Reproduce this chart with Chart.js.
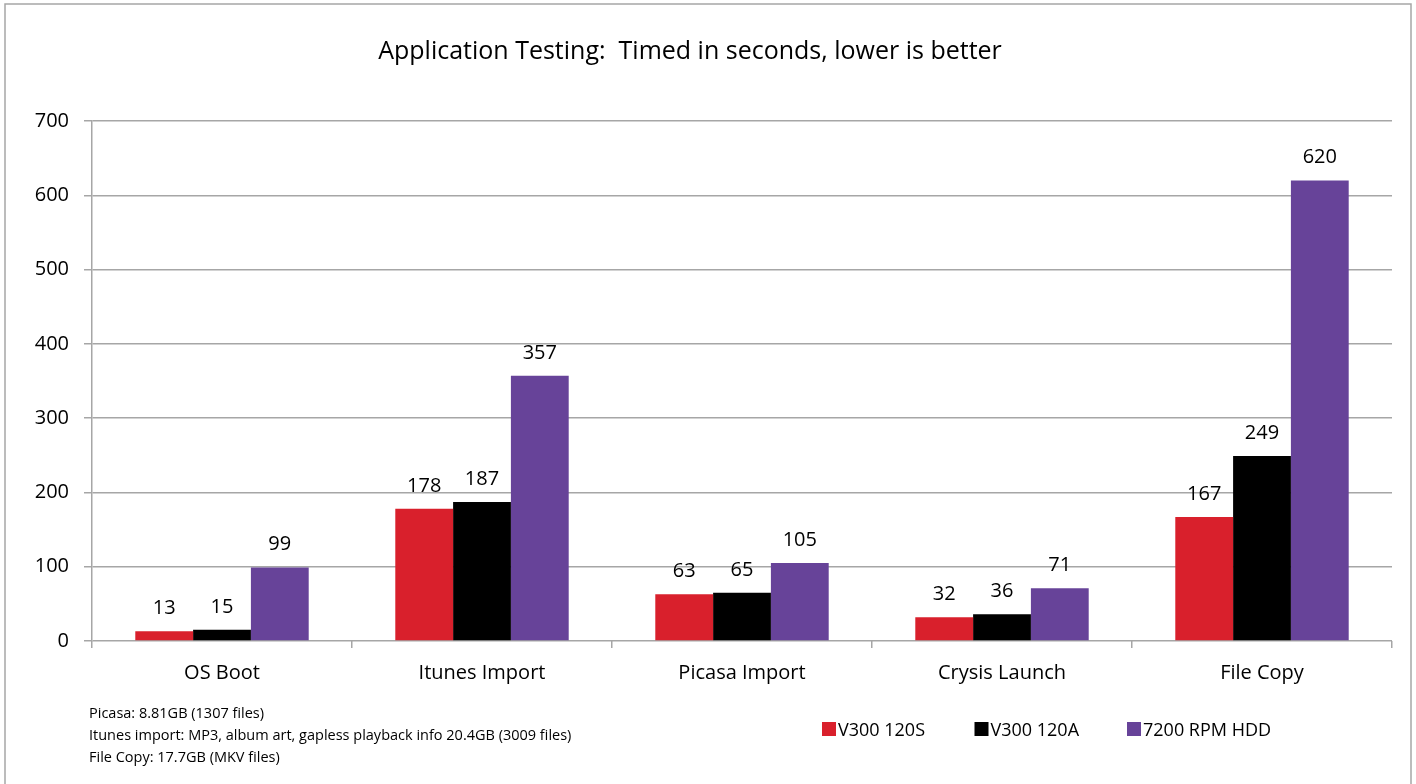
<!DOCTYPE html>
<html lang="en">
<head>
    <meta charset="UTF-8">
    <title>Application Testing</title>
    <style>
        body { margin: 0; background: #fff; }
        #wrap { width: 1416px; height: 784px; position: relative; }
    </style>
</head>
<body>
<div id="wrap"><canvas id="myChart" width="1416" height="784"></canvas></div>
<script src="https://cdn.jsdelivr.net/npm/chart.js"></script>
<script>
    // data
    const categories = ['OS Boot', 'Itunes Import', 'Picasa Import', 'Crysis Launch', 'File Copy'];
    const seriesNames = ['V300 120S', 'V300 120A', '7200 RPM HDD'];
    const v300s = [13, 178, 63, 32, 167];
    const v300a = [15, 187, 65, 36, 249];
    const hdd = [99, 357, 105, 71, 620];
    const yTicks = [0, 100, 200, 300, 400, 500, 600, 700];
    const notes = [
        'Picasa: 8.81GB (1307 files)',
        'Itunes import: MP3, album art, gapless playback info 20.4GB (3009 files)',
        'File Copy: 17.7GB (MKV files)'
    ];
    const titleText = 'Application Testing:  Timed in seconds, lower is better';

    const colors = ['#d9202c', '#000000', '#674399'];
    const fontName = '"Open Sans", Lato, sans-serif';

    // title, border, notes, legend and value labels
    const extras = {
        id: 'extras',
        afterDraw(chart) {
            const c = chart.ctx;
            c.save();
            // frame runs off the bottom edge of the picture
            c.strokeStyle = '#a6a6a6';
            c.lineWidth = 1.5;
            c.strokeRect(5, 4, 1406, 800);

            c.fillStyle = '#000';
            c.font = '25px ' + fontName;
            c.textAlign = 'center';
            c.textBaseline = 'middle';
            c.fillText(titleText, 690, 52);

            // value labels
            c.font = '20px ' + fontName;
            c.textBaseline = 'alphabetic';
            chart.data.datasets.forEach((ds, i) => {
                chart.getDatasetMeta(i).data.forEach((bar, j) => {
                    c.fillText(ds.data[j], bar.x, bar.y - 17);
                });
            });

            // footnotes
            c.font = '14.5px ' + fontName;
            c.textAlign = 'left';
            c.textBaseline = 'middle';
            notes.forEach((t, i) => c.fillText(t, 89, 714 + i * 22));

            // legend
            c.font = '18px ' + fontName;
            chart.data.datasets.forEach((ds, i) => {
                const x = 822 + i * 152.5;
                c.fillStyle = ds.backgroundColor;
                c.fillRect(x, 722, 14, 14);
                c.fillStyle = '#000';
                c.fillText(ds.label, x + 16, 731);
            });
            c.restore();
        }
    };

    const ctx = document.querySelector('#myChart').getContext('2d');
    new Chart(ctx, {
        type: 'bar',
        data: {
            labels: categories,
            datasets: [v300s, v300a, hdd].map((d, i) => ({
                label: seriesNames[i],
                data: d,
                backgroundColor: colors[i],
                barPercentage: 1,
                categoryPercentage: 0.667
            }))
        },
        options: {
            responsive: false,
            animation: false,
            layout: { padding: { top: 121, left: 0, right: 24, bottom: 89 } },
            plugins: {
                legend: { display: false },
                title: { display: false },
                tooltip: { enabled: false }
            },
            scales: {
                x: {
                    afterFit: s => { s.height = 54; },
                    grid: { offset: true, drawOnChartArea: false, drawTicks: true, tickLength: 7, color: '#a6a6a6', lineWidth: 1.5 },
                    border: { display: false },
                    ticks: { color: '#000', font: { family: fontName, size: 20 }, padding: 13 }
                },
                y: {
                    min: 0,
                    max: 700,
                    afterFit: s => { s.width = 92; },
                    afterBuildTicks: s => { s.ticks = yTicks.map(v => ({ value: v })); },
                    grid: { color: '#a6a6a6', lineWidth: 1.5, tickLength: 8 },
                    border: { color: '#a6a6a6', width: 1.5 },
                    ticks: { color: '#000', font: { family: fontName, size: 20 }, padding: 15 }
                }
            }
        },
        plugins: [extras]
    });
</script>
</body>
</html>
